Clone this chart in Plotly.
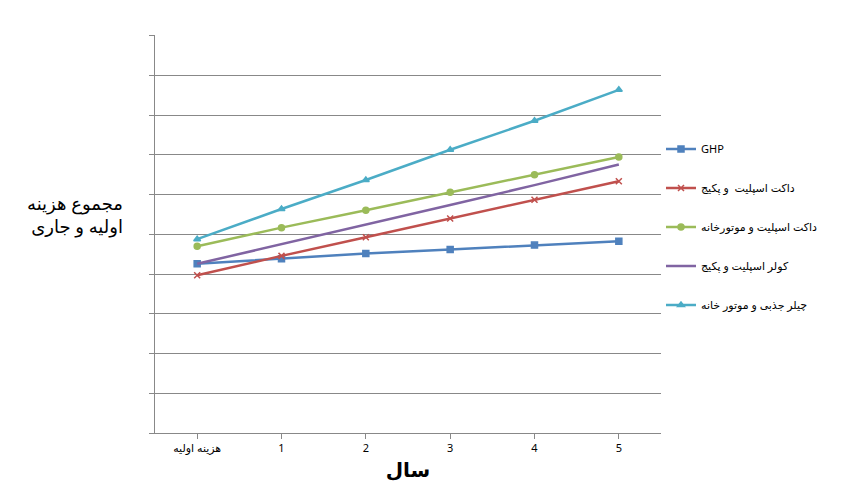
import plotly.graph_objects as go

categories = ["هزینه اولیه", "1", "2", "3", "4", "5"]
ghp = [4.26, 4.39, 4.52, 4.62, 4.73, 4.83]
duct_package = [3.97, 4.46, 4.93, 5.40, 5.87, 6.34]
duct_engine = [4.70, 5.17, 5.61, 6.06, 6.50, 6.95]
cooler_package = [4.26, 4.75, 5.25, 5.74, 6.24, 6.76]
chiller = [4.88, 5.64, 6.37, 7.13, 7.86, 8.64]

series = [
    ("GHP", ghp, "#4F81BD", "square", "lines+markers"),
    ("داکت اسپلیت  و پکیج", duct_package, "#C0504D", "x-thin", "lines+markers"),
    ("داکت اسپلیت و موتورخانه", duct_engine, "#9BBB59", "circle", "lines+markers"),
    ("کولر اسپلیت و پکیج", cooler_package, "#8064A2", "circle", "lines"),
    ("چیلر جذبی و موتور خانه", chiller, "#4BACC6", "triangle-up", "lines+markers"),
]

fig = go.Figure()
for i, (name, vals, color, sym, mode) in enumerate(series):
    fig.add_trace(go.Scatter(
        x=categories, y=vals, name=name, mode=mode, legendgroup=f"g{i}",
        line=dict(color=color, width=2.5),
        marker=dict(symbol=sym, size=6, color=color, line=dict(color=color, width=1.5)),
    ))

fig.update_layout(
    width=843, height=490,
    margin=dict(l=147, r=190, t=27, b=65),
    paper_bgcolor="white", plot_bgcolor="white",
    font=dict(family="Noto Sans, DejaVu Sans", size=11, color="black"),
    showlegend=True,
    legend=dict(x=1.0, y=0.75, xanchor="left", yanchor="top",
                tracegroupgap=20, font=dict(size=11), bgcolor="rgba(0,0,0,0)"),
    xaxis=dict(type="category", range=[-0.5, 5.5], showgrid=False,
               showline=True, linecolor="#888", ticks="outside", tickcolor="#888",
               tickfont=dict(size=11),
               title=dict(text="<b>سال</b>", font=dict(size=20), standoff=8)),
    yaxis=dict(range=[0, 10.02], dtick=1, showgrid=True, gridcolor="#888", gridwidth=1,
               showticklabels=False, showline=True, linecolor="#888",
               ticks="outside", tickcolor="#888", ticklen=5, zeroline=False),
    annotations=[dict(text="مجموع هزینه<br>اولیه و جاری", x=-0.06, y=0.55,
                      xref="paper", yref="paper", xanchor="right", yanchor="middle",
                      showarrow=False, font=dict(size=18), align="right")],
)

fig.write_html("out.html")
